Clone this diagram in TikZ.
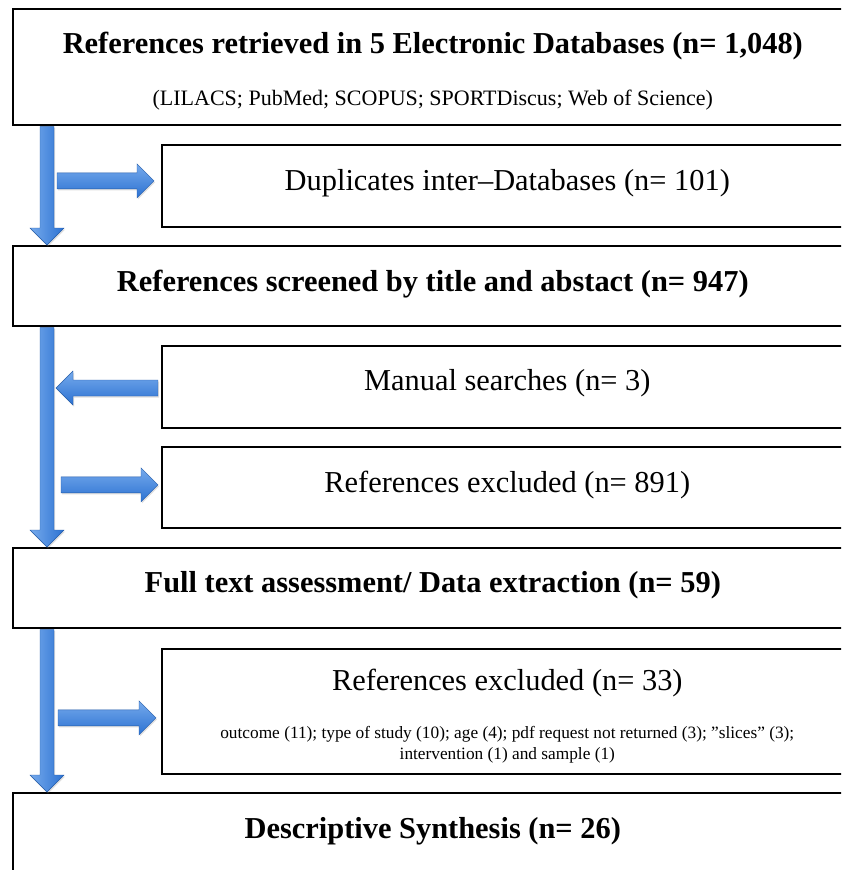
\documentclass[tikz,border=0pt]{standalone}
\usepackage{fontspec}
\setmainfont{Liberation Serif}
\usetikzlibrary{calc,shadows}
\definecolor{arrlight}{RGB}{118,170,236}
\definecolor{arrdark}{RGB}{44,114,210}
\begin{document}
\begin{tikzpicture}[x=1pt,y=-1pt,
  box/.style={draw=black,line width=1.6pt,fill=white,rectangle,anchor=north west,inner sep=0pt},
  bigtxt/.style={font=\fontsize{30.4}{36}\selectfont\bfseries,inner sep=0pt},
  regtxt/.style={font=\fontsize{30.4}{36}\selectfont,inner sep=0pt},
  subtxt/.style={font=\fontsize{22}{26}\selectfont,inner sep=0pt},
  smalltxt/.style={font=\fontsize{17.3}{21}\selectfont,inner sep=0pt,align=center},
  varrow/.style={left color=arrlight,right color=arrdark,draw=arrdark!80!black,line width=0.4pt,
    drop shadow={shadow xshift=1pt,shadow yshift=-1.5pt,opacity=0.25}},
  harrow/.style={top color=arrlight,bottom color=arrdark,draw=arrdark!80!black,line width=0.4pt,
    drop shadow={shadow xshift=1pt,shadow yshift=-1.5pt,opacity=0.25}}]
\useasboundingbox (0,0) rectangle (841,870);
\clip (0,0) rectangle (841,870);
\fill[white] (0,0) rectangle (841,870);
% boxes
\node[box,minimum width=840pt,minimum height=116pt] (b1) at (12,8) {};
\node[box,minimum width=691pt,minimum height=82pt] (b2) at (161,144) {};
\node[box,minimum width=840pt,minimum height=80pt] (b3) at (12,245) {};
\node[box,minimum width=691pt,minimum height=82pt] (b4) at (161,345) {};
\node[box,minimum width=691pt,minimum height=81pt] (b5) at (161,446) {};
\node[box,minimum width=840pt,minimum height=80pt] (b6) at (12,547) {};
\node[box,minimum width=691pt,minimum height=125pt] (b7) at (161,648) {};
\node[box,minimum width=840pt,minimum height=100pt] (b8) at (12,792) {};
% texts
\node[bigtxt] (t1) at ($(b1.north)+(0,38)$) {References retrieved in 5 Electronic Databases (n= 1,048)};
\node[subtxt] (s1) at ($(b1.north)+(0,92)$) {(LILACS; PubMed; SCOPUS; SPORTDiscus; Web of Science)};
\node[regtxt] (t2) at ($(b2.north)+(0,39)$) {Duplicates inter--Databases (n= 101)};
\node[bigtxt] (t3) at ($(b3.north)+(0,39)$) {References screened by title and abstact (n= 947)};
\node[regtxt] (t4) at ($(b4.north)+(0,38)$) {Manual searches (n= 3)};
\node[regtxt] (t5) at ($(b5.north)+(0,39)$) {References excluded (n= 891)};
\node[bigtxt] (t6) at ($(b6.north)+(0,38)$) {Full text assessment/ Data extraction (n= 59)};
\node[regtxt] (t7) at ($(b7.north)+(0,35)$) {References excluded (n= 33)};
\node[smalltxt] (s7) at ($(b7.north)+(0,97)$) {outcome (11); type of study (10); age (4); pdf request not returned (3); \symbol{34}slices\symbol{34} (3);\\ intervention (1) and sample (1)};
\node[bigtxt] (t8) at ($(b8.north)+(0,39)$) {Descriptive Synthesis (n= 26)};
% vertical arrow end points
\coordinate (v1a) at ($(b1.south west)+(35,1)$);
\coordinate (v1b) at ($(b3.north west)+(35,0)$);
\coordinate (v2a) at ($(b3.south west)+(35,1)$);
\coordinate (v2b) at ($(b6.north west)+(35,0)$);
\coordinate (v3a) at ($(b6.south west)+(35,1)$);
\coordinate (v3b) at ($(b8.north west)+(35,0)$);
% horizontal arrow end points
\coordinate (h1a) at (57,180);
\coordinate (h1b) at ($(b2.west)+(-7,-5)$);
\coordinate (h2a) at ($(b4.west)+(-3,2)$);
\coordinate (h2b) at (56,388);
\coordinate (h3a) at (61,484);
\coordinate (h3b) at ($(b5.west)+(-3,-2.5)$);
\coordinate (h4a) at (58,717);
\coordinate (h4b) at ($(b7.west)+(-5,6.5)$);
% vertical block arrows
\foreach \s/\e in {v1a/v1b,v2a/v2b,v3a/v3b}{
  \path[varrow] let \p1=(\s), \p2=(\e) in
    (\x1-7pt,\y1) -- (\x1+7pt,\y1) -- (\x1+7pt,\y2+17pt) -- (\x1+17pt,\y2+17pt)
    -- (\x1,\y2) -- (\x1-17pt,\y2+17pt) -- (\x1-7pt,\y2+17pt) -- cycle;
}
% right-pointing block arrows
\foreach \s/\e in {h1a/h1b,h3a/h3b,h4a/h4b}{
  \path[harrow] let \p1=(\s), \p2=(\e) in
    (\x1,\y2+8pt) -- (\x2-17pt,\y2+8pt) -- (\x2-17pt,\y2+17pt) -- (\x2,\y2)
    -- (\x2-17pt,\y2-17pt) -- (\x2-17pt,\y2-8pt) -- (\x1,\y2-8pt) -- cycle;
}
% left-pointing block arrow
\path[harrow] let \p1=(h2a), \p2=(h2b) in
    (\x1,\y2+8pt) -- (\x2+17pt,\y2+8pt) -- (\x2+17pt,\y2+17pt) -- (\x2,\y2)
    -- (\x2+17pt,\y2-17pt) -- (\x2+17pt,\y2-8pt) -- (\x1,\y2-8pt) -- cycle;
\end{tikzpicture}
\end{document}
